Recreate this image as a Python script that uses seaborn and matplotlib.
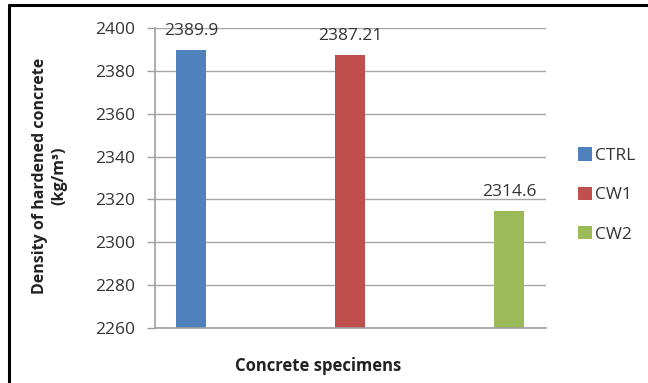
import matplotlib
matplotlib.use("Agg")
import matplotlib.pyplot as plt
from matplotlib.lines import Line2D
import seaborn as sns
import pandas as pd

specimens = ["CTRL", "CW1", "CW2"]
density = [2389.9, 2387.21, 2314.6]
label_text = ["2389.9", "2387.21", "2314.6"]
colors = ["#4F81BD", "#C0504D", "#9BBB59"]
y_ticks = [2260, 2280, 2300, 2320, 2340, 2360, 2380, 2400]

sns.set_theme(style="white")
plt.rcParams["font.family"] = ["Open Sans", "DejaVu Sans"]

df = pd.DataFrame({"specimen": specimens, "density": density})

fig = plt.figure(figsize=(6.48, 3.83), dpi=100)
ax = fig.add_axes([155 / 648, 1 - 328 / 383, (546 - 155) / 648, (328 - 28) / 383])

sns.barplot(data=df, x="specimen", y="density", hue="specimen",
            palette=colors, width=0.19, legend=True, ax=ax,
            saturation=1, linewidth=0)

ax.set_ylim(2260, 2400)
ax.set_xlim(-0.226, 2.233)
ax.set_yticks(y_ticks)
ax.set_xticks([])
ax.yaxis.grid(True, color="#A6A6A6", linewidth=1)
ax.set_axisbelow(True)
for side in ("top", "right"):
    ax.spines[side].set_visible(False)
for side in ("left", "bottom"):
    ax.spines[side].set_color("#A0A0A0")
    ax.spines[side].set_linewidth(1.2)
ax.tick_params(axis="y", which="major", left=True, length=6, width=1,
               color="#A0A0A0", labelsize=12.5, labelcolor="#333333", pad=8)
ax.set_xlabel("")
ax.set_ylabel("")

for container, txt in zip(ax.containers, label_text):
    ax.bar_label(container, labels=[txt], padding=8, fontsize=12.5, color="#333333")

handles, labels = ax.get_legend_handles_labels()
ax.legend(handles, labels, loc="center left", bbox_to_anchor=(562 / 648, 1 - 195 / 383),
          bbox_transform=fig.transFigure, frameon=False, fontsize=12.5,
          handlelength=0.8, handleheight=0.8, handletextpad=0.2,
          labelspacing=1.3, labelcolor="#333333")

fig.text(50 / 648, 1 - 176 / 383, "Density of hardened concrete\n(kg/m³)",
         rotation=90, ha="center", va="center", fontsize=11.5, fontweight="bold",
         color="#222222", linespacing=1.25)
fig.text(318 / 648, 1 - 366 / 383, "Concrete specimens", ha="center", va="center",
         fontsize=12, fontweight="bold", color="#222222")

# outer frame edges (top and left)
fig.add_artist(Line2D([9 / 648, 1], [1 - 5 / 383, 1 - 5 / 383], transform=fig.transFigure,
                      color="black", linewidth=2.2))
fig.add_artist(Line2D([9 / 648, 9 / 648], [0, 1 - 5 / 383], transform=fig.transFigure,
                      color="black", linewidth=2.2))

fig.savefig("out.png", dpi=100)
